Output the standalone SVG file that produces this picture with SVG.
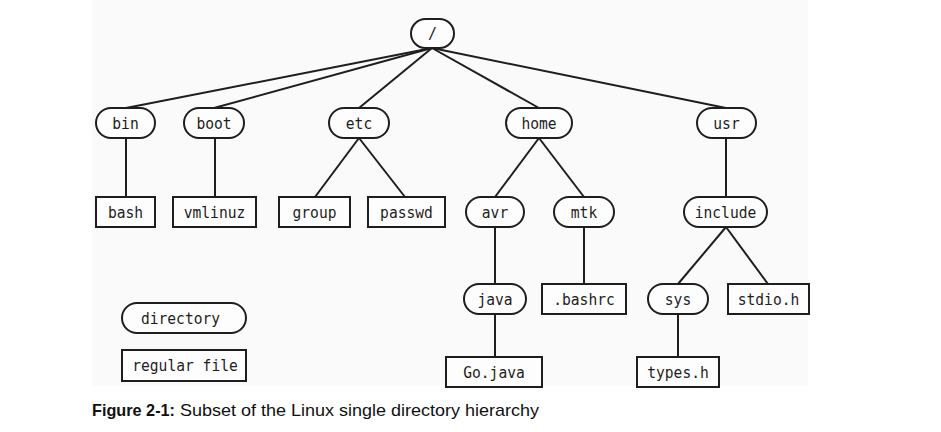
<svg xmlns="http://www.w3.org/2000/svg" width="941" height="432" viewBox="0 0 941 432">
<style>
.d{fill:#fdfdfd;stroke:#1e1e1e;stroke-width:2}
.f{fill:#fdfdfd;stroke:#1e1e1e;stroke-width:2}
.t{font-family:"DejaVu Sans Mono","Liberation Mono",monospace;font-size:15px;fill:#1e1e1e;text-anchor:middle}
.c{stroke:#1e1e1e;stroke-width:2;fill:none}
.cap{font-family:"Liberation Sans","DejaVu Sans",sans-serif;font-size:17px;fill:#111}
</style>
<rect x="92" y="0" width="716" height="386" fill="#fafafa"/>
<g id="connectors" class="c">
<line x1="432" y1="48" x2="126" y2="108"/>
<line x1="432" y1="48" x2="214" y2="108"/>
<line x1="432" y1="48" x2="359" y2="108"/>
<line x1="432" y1="48" x2="539" y2="108"/>
<line x1="432" y1="48" x2="726" y2="108"/>
<line x1="126" y1="138" x2="126" y2="197"/>
<line x1="215" y1="138" x2="215" y2="197"/>
<line x1="359" y1="138" x2="315" y2="197"/>
<line x1="359" y1="138" x2="405" y2="197"/>
<line x1="539" y1="138" x2="495" y2="197"/>
<line x1="539" y1="138" x2="584" y2="197"/>
<line x1="726" y1="138" x2="726" y2="197"/>
<line x1="495" y1="227" x2="495" y2="284"/>
<line x1="584" y1="227" x2="584" y2="284"/>
<line x1="726" y1="227" x2="678" y2="284"/>
<line x1="726" y1="227" x2="768" y2="284"/>
<line x1="495" y1="314" x2="495" y2="357"/>
<line x1="678" y1="314" x2="678" y2="357"/>
</g>
<g id="root"><rect class="d" x="411" y="19" width="43" height="29" rx="14.5"/><text class="t" x="432.5" y="39">/</text></g>
<g id="bin"><rect class="d" x="96" y="108" width="59" height="30" rx="15"/><text class="t" x="125.5" y="128.5" textLength="26.4" lengthAdjust="spacingAndGlyphs">bin</text></g>
<g id="boot"><rect class="d" x="184" y="108" width="60" height="30" rx="15"/><text class="t" x="214" y="128.5" textLength="35.2" lengthAdjust="spacingAndGlyphs">boot</text></g>
<g id="etc"><rect class="d" x="329" y="108" width="60" height="30" rx="15"/><text class="t" x="359" y="128.5" textLength="26.4" lengthAdjust="spacingAndGlyphs">etc</text></g>
<g id="home"><rect class="d" x="506" y="108" width="66" height="30" rx="15"/><text class="t" x="539" y="128.5" textLength="35.2" lengthAdjust="spacingAndGlyphs">home</text></g>
<g id="usr"><rect class="d" x="697" y="108" width="59" height="30" rx="15"/><text class="t" x="726.5" y="128.5" textLength="26.4" lengthAdjust="spacingAndGlyphs">usr</text></g>
<g id="bash"><rect class="f" x="96" y="197" width="59" height="30"/><text class="t" x="125.5" y="217.5" textLength="35.2" lengthAdjust="spacingAndGlyphs">bash</text></g>
<g id="vmlinuz"><rect class="f" x="173" y="197" width="83" height="30"/><text class="t" x="214.5" y="217.5" textLength="61.6" lengthAdjust="spacingAndGlyphs">vmlinuz</text></g>
<g id="group"><rect class="f" x="279" y="197" width="71" height="30"/><text class="t" x="314.5" y="217.5" textLength="44" lengthAdjust="spacingAndGlyphs">group</text></g>
<g id="passwd"><rect class="f" x="368" y="197" width="77" height="30"/><text class="t" x="406.5" y="217.5" textLength="52.8" lengthAdjust="spacingAndGlyphs">passwd</text></g>
<g id="avr"><rect class="d" x="466" y="197" width="58" height="30" rx="15"/><text class="t" x="495" y="217.5" textLength="26.4" lengthAdjust="spacingAndGlyphs">avr</text></g>
<g id="mtk"><rect class="d" x="554" y="197" width="60" height="30" rx="15"/><text class="t" x="584" y="217.5" textLength="26.4" lengthAdjust="spacingAndGlyphs">mtk</text></g>
<g id="include"><rect class="d" x="684" y="197" width="83" height="30" rx="15"/><text class="t" x="725.5" y="217.5" textLength="61.6" lengthAdjust="spacingAndGlyphs">include</text></g>
<g id="java"><rect class="d" x="464" y="284" width="62" height="30" rx="15"/><text class="t" x="495" y="304.5" textLength="35.2" lengthAdjust="spacingAndGlyphs">java</text></g>
<g id="bashrc"><rect class="f" x="542" y="284" width="84" height="30"/><text class="t" x="584" y="304.5" textLength="61.6" lengthAdjust="spacingAndGlyphs">.bashrc</text></g>
<g id="sys"><rect class="d" x="648" y="284" width="60" height="30" rx="15"/><text class="t" x="678" y="304.5" textLength="26.4" lengthAdjust="spacingAndGlyphs">sys</text></g>
<g id="stdio"><rect class="f" x="728" y="284" width="81" height="30"/><text class="t" x="768.5" y="304.5" textLength="61.6" lengthAdjust="spacingAndGlyphs">stdio.h</text></g>
<g id="gojava"><rect class="f" x="446" y="357" width="96" height="30"/><text class="t" x="494" y="377.5" textLength="61.6" lengthAdjust="spacingAndGlyphs">Go.java</text></g>
<g id="types"><rect class="f" x="637" y="357" width="82" height="30"/><text class="t" x="678" y="377.5" textLength="61.6" lengthAdjust="spacingAndGlyphs">types.h</text></g>
<g id="legend-directory"><rect class="d" x="122" y="303" width="124" height="30" rx="15"/><text class="t" x="180.5" y="323.5" textLength="79.2" lengthAdjust="spacingAndGlyphs">directory</text></g>
<g id="legend-file"><rect class="f" x="122" y="350" width="124" height="31"/><text class="t" x="185" y="371" textLength="105.6" lengthAdjust="spacingAndGlyphs">regular file</text></g>
<g id="caption">
<text class="cap" x="92" y="416" font-weight="bold" textLength="83" lengthAdjust="spacingAndGlyphs">Figure 2-1:</text>
<text class="cap" x="180" y="416" textLength="359" lengthAdjust="spacingAndGlyphs">Subset of the Linux single directory hierarchy</text>
</g>
</svg>
